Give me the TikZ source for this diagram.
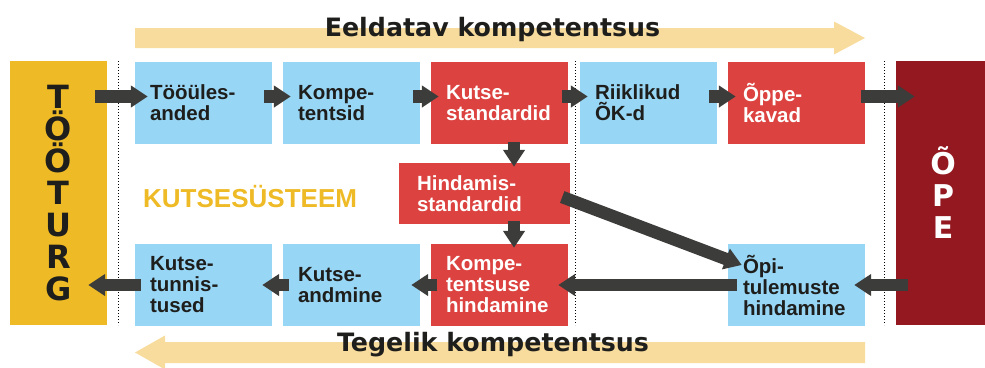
\documentclass[tikz,border=0pt]{standalone}
\usepackage{fontspec}
\usepackage{tikz}
\usepackage{xcolor}
\usetikzlibrary{arrows.meta}

\newfontfamily\arialfont{Liberation Sans}
\newfontfamily\heavyfont{DejaVu Sans}

\definecolor{turgyellow}{RGB}{238,186,38}
\definecolor{opered}{RGB}{147,24,32}
\definecolor{boxblue}{RGB}{152,214,245}
\definecolor{boxred}{RGB}{220,67,64}
\definecolor{bandyellow}{RGB}{248,220,158}
\definecolor{arrowgray}{RGB}{60,60,58}
\definecolor{textdark}{RGB}{30,30,28}

\begin{document}
\begin{tikzpicture}[x=1pt, y=-1pt,
  box/.style={minimum width=137pt, minimum height=82pt, text width=107pt, inner xsep=15pt, inner ysep=0pt, align=left, font=\arialfont\bfseries\fontsize{20.5}{21}\selectfont},
  blue box/.style={box, fill=boxblue, text=textdark},
  red box/.style={box, fill=boxred, text=white},
  side/.style={inner sep=0pt, minimum height=264pt, align=center, font=\heavyfont\bfseries\fontsize{32}{32}\selectfont},
  flow/.style={draw=arrowgray, line width=12.5pt, -{Triangle[length=17pt,width=21pt]}},
  title/.style={anchor=base, inner sep=0pt, text=textdark, font=\heavyfont\bfseries\fontsize{25.3}{30}\selectfont},
  band/.style={fill=bandyellow},
  sep/.style={black, line width=1pt, dash pattern=on 1pt off 2pt}]
\useasboundingbox (0,0) rectangle (985,367);

\fill[band] (135,28) -- (834,28) -- (834,21.5) -- (865,38) -- (834,54.5) -- (834,48) -- (135,48) -- cycle;
\fill[band] (865,342) -- (165,342) -- (165,335.5) -- (135,352.5) -- (165,369.5) -- (165,363) -- (865,363) -- cycle;
\node (EK) at (492.5,36) [title] {Eeldatav kompetentsus};
\node (TK) at (493,351) [title] {Tegelik kompetentsus};

\foreach \x in {118,575,884}
  \draw[sep] (\x,61) -- (\x,325);

\node (TURG) at (58.5,193) [side, fill=turgyellow, minimum width=97pt, text=textdark] {T\\Ö\\Ö\\T\\U\\R\\G};
\node (OPE) at (943,193) [side, fill=opered, minimum width=94pt, text=white, font=\heavyfont\bfseries\fontsize{30}{32}\selectfont] {Õ\\P\\E};

\node (TOO) at (203.5,103) [blue box] {Tööüles-\\anded};
\node (KOMP) at (351.5,103) [blue box] {Kompe-\\tentsid};
\node (KST) at (499.5,103) [red box] {Kutse-\\standardid};
\node (ROK) at (648.5,103) [blue box] {Riiklikud\\ÕK-d};
\node (OKAV) at (796.5,103) [red box] {Õppe-\\kavad};
\node (HST) at (484.5,193.5) [red box, minimum width=171pt, minimum height=61pt, text width=135pt, inner xsep=18pt] {Hindamis-\\standardid};
\node (KTUN) at (203.5,285) [blue box] {Kutse-\\tunnis-\\tused};
\node (KAND) at (351.5,285) [blue box] {Kutse-\\andmine};
\node (KHIND) at (499.5,285) [red box] {Kompe-\\tentsuse\\hindamine};
\node (OPIT) at (796.5,285) [blue box] {Õpi-\\tulemuste\\hindamine};

\node (KS) at (143,207) [anchor=base west, inner sep=0pt, text=turgyellow, font=\arialfont\bfseries\fontsize{26}{30}\selectfont] {KUTSESÜSTEEM};

\draw[flow] ([xshift=-12pt,yshift=96.5pt]TURG.east) to ([xshift=13pt,yshift=6.5pt]TOO.west);
\draw[flow] ([xshift=-8pt,yshift=6.5pt]TOO.east) to ([xshift=8pt,yshift=6.5pt]KOMP.west);
\draw[flow] ([xshift=-7pt,yshift=6.5pt]KOMP.east) to ([xshift=8pt,yshift=6.5pt]KST.west);
\draw[flow] ([xshift=-6pt,yshift=6.5pt]KST.east) to ([xshift=8pt,yshift=6.5pt]ROK.west);
\draw[flow] ([xshift=-8pt,yshift=6.5pt]ROK.east) to ([xshift=8pt,yshift=6.5pt]OKAV.west);
\draw[flow] ([xshift=-4pt,yshift=6.5pt]OKAV.east) to ([xshift=19pt,yshift=96.5pt]OPE.west);
\draw[flow] ([xshift=14.5pt,yshift=2pt]KST.south) to ([xshift=29.5pt,yshift=-4pt]HST.north);
\draw[flow] ([xshift=29.5pt,yshift=3pt]HST.south) to ([xshift=14.5pt,yshift=-4pt]KHIND.north);
\draw[flow] ([xshift=-8pt,yshift=-3.5pt]HST.east) to ([xshift=14pt,yshift=20pt]OPIT.west);
\draw[flow] ([xshift=12pt,yshift=-92pt]OPE.west) to ([xshift=-11pt]OPIT.east);
\draw[flow] ([xshift=9pt]OPIT.west) to ([xshift=-10pt]KHIND.east);
\draw[flow] ([xshift=6pt]KHIND.west) to ([xshift=-9pt]KAND.east);
\draw[flow] ([xshift=6pt]KAND.west) to ([xshift=-10pt]KTUN.east);
\draw[flow] ([xshift=6pt]KTUN.west) to ([xshift=-19pt,yshift=-92pt]TURG.east);
\end{tikzpicture}
\end{document}
